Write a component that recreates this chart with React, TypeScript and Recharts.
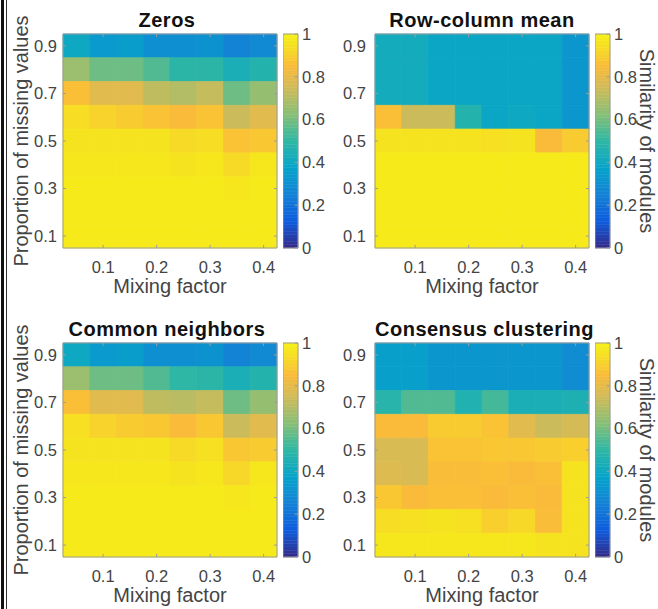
import React from 'react';
import {
  ScatterChart,
  Scatter,
  XAxis,
  YAxis,
  ReferenceArea,
  ReferenceLine,
} from 'recharts';

// grid of the heatmaps
const mixingFactors = [0.05, 0.1, 0.15, 0.2, 0.25, 0.3, 0.35, 0.4];
// rows listed top to bottom
const missingProps = [0.9, 0.8, 0.7, 0.6, 0.5, 0.4, 0.3, 0.2, 0.1];

const xTicks = [0.1, 0.2, 0.3, 0.4];
const yTicks = [0.1, 0.3, 0.5, 0.7, 0.9];
const cbTicks = [0, 0.2, 0.4, 0.6, 0.8, 1];

// similarity of modules, one row per missing proportion (0.9 -> 0.1)
const zerosSim = [
  [0.4, 0.34, 0.35, 0.3, 0.3, 0.31, 0.26, 0.28],
  [0.66, 0.59, 0.59, 0.55, 0.49, 0.49, 0.44, 0.47],
  [0.86, 0.79, 0.79, 0.72, 0.7, 0.73, 0.59, 0.65],
  [0.94, 0.91, 0.89, 0.87, 0.85, 0.87, 0.74, 0.79],
  [0.96, 0.96, 0.96, 0.96, 0.93, 0.94, 0.87, 0.88],
  [0.97, 0.97, 0.97, 0.97, 0.96, 0.97, 0.93, 0.97],
  [0.98, 0.98, 0.98, 0.98, 0.98, 0.98, 0.97, 0.98],
  [0.98, 0.98, 0.98, 0.98, 0.98, 0.98, 0.98, 0.98],
  [0.98, 0.98, 0.98, 0.98, 0.98, 0.98, 0.98, 0.98],
];

const rowColSim = [
  [0.42, 0.42, 0.39, 0.39, 0.39, 0.39, 0.39, 0.33],
  [0.42, 0.42, 0.39, 0.39, 0.39, 0.39, 0.39, 0.33],
  [0.42, 0.42, 0.39, 0.39, 0.39, 0.39, 0.39, 0.33],
  [0.86, 0.74, 0.74, 0.47, 0.39, 0.4, 0.39, 0.33],
  [0.96, 0.96, 0.96, 0.96, 0.95, 0.96, 0.85, 0.89],
  [0.98, 0.98, 0.98, 0.98, 0.98, 0.98, 0.98, 0.98],
  [0.98, 0.98, 0.98, 0.98, 0.98, 0.98, 0.98, 0.98],
  [0.98, 0.98, 0.98, 0.98, 0.98, 0.98, 0.98, 0.98],
  [0.98, 0.98, 0.98, 0.98, 0.98, 0.98, 0.98, 0.98],
];

const neighborsSim = [
  [0.4, 0.34, 0.35, 0.3, 0.3, 0.31, 0.26, 0.28],
  [0.66, 0.59, 0.59, 0.55, 0.5, 0.49, 0.44, 0.47],
  [0.86, 0.79, 0.79, 0.72, 0.71, 0.73, 0.59, 0.65],
  [0.95, 0.91, 0.89, 0.88, 0.85, 0.88, 0.74, 0.79],
  [0.96, 0.96, 0.96, 0.96, 0.93, 0.95, 0.88, 0.89],
  [0.97, 0.97, 0.97, 0.97, 0.96, 0.97, 0.92, 0.97],
  [0.98, 0.98, 0.98, 0.98, 0.98, 0.98, 0.97, 0.98],
  [0.98, 0.98, 0.98, 0.98, 0.98, 0.98, 0.98, 0.98],
  [0.98, 0.98, 0.98, 0.98, 0.98, 0.98, 0.98, 0.98],
];

const consensusSim = [
  [0.36, 0.36, 0.33, 0.33, 0.33, 0.33, 0.33, 0.29],
  [0.36, 0.36, 0.33, 0.33, 0.33, 0.33, 0.33, 0.29],
  [0.48, 0.55, 0.55, 0.46, 0.53, 0.44, 0.44, 0.45],
  [0.85, 0.85, 0.89, 0.89, 0.87, 0.79, 0.74, 0.76],
  [0.77, 0.77, 0.87, 0.87, 0.88, 0.88, 0.89, 0.9],
  [0.78, 0.77, 0.855, 0.855, 0.86, 0.85, 0.86, 0.96],
  [0.88, 0.85, 0.86, 0.86, 0.85, 0.86, 0.85, 0.96],
  [0.94, 0.95, 0.96, 0.95, 0.9, 0.92, 0.855, 0.96],
  [0.97, 0.97, 0.97, 0.97, 0.97, 0.97, 0.96, 0.96],
];

// parula-like colormap
const parulaStops: [number, number, number, number][] = [
  [0, 53, 42, 135],
  [0.125, 15, 92, 221],
  [0.25, 20, 129, 214],
  [0.375, 6, 164, 202],
  [0.5, 46, 183, 164],
  [0.625, 135, 191, 119],
  [0.75, 209, 187, 89],
  [0.85, 250, 187, 58],
  [0.92, 247, 215, 40],
  [1, 245, 240, 22],
];

function parula(v: number) {
  const t = Math.max(0, Math.min(1, v));
  for (let i = 1; i < parulaStops.length; i++) {
    const a = parulaStops[i - 1];
    const b = parulaStops[i];
    if (t <= b[0]) {
      const f = (t - a[0]) / (b[0] - a[0]);
      const c = [1, 2, 3].map((k) => Math.round(a[k] + (b[k] - a[k]) * f));
      return `rgb(${c[0]},${c[1]},${c[2]})`;
    }
  }
  return 'rgb(245,240,22)';
}

const FONT = '"Liberation Sans", Arial, Helvetica, sans-serif';
const TEXT = '#444444';
const BOX = '#9c9c9c';
const tickStyle = { fontSize: 16.5, fill: TEXT, fontFamily: FONT };
const labelStyle = { fontSize: 20, fill: TEXT, fontFamily: FONT };

const halfW = 0.025;
const halfH = 0.05;
const xDomain: [number, number] = [0.025, 0.425];
const yDomain: [number, number] = [0.05, 0.95];
const tickLenX = 0.0055; // in x units
const tickLenY = 0.013; // in y units

function HeatPanel({
  title,
  values,
  left,
  top,
  yLabel,
  yTickMargin,
}: {
  title: string;
  values: number[][];
  left: number;
  top: number;
  yLabel: boolean;
  yTickMargin: number;
}) {
  const cells = values.flatMap((row, r) =>
    row.map((v, c) => ({ x: mixingFactors[c], y: missingProps[r], v }))
  );
  return (
    <div style={{ position: 'absolute', left, top, width: 300, height: 300 }}>
      <div
        style={{
          position: 'absolute',
          left: 60,
          width: 214,
          top: 10,
          textAlign: 'center',
          fontFamily: FONT,
          fontWeight: 'bold',
          fontSize: 20,
          lineHeight: '20px',
          letterSpacing: 0.5,
          color: '#111',
          whiteSpace: 'nowrap',
        }}
      >
        {title}
      </div>
      <ScatterChart
        width={300}
        height={300}
        margin={{ top: 34, right: left === 0 ? 23 : 26, bottom: 0, left: 0 }}
        style={{ position: 'absolute', left: 0, top: 0 }}
      >
        <XAxis
          type="number"
          dataKey="x"
          domain={xDomain}
          ticks={xTicks}
          tickFormatter={(v: number) => v.toFixed(1)}
          tick={tickStyle}
          tickLine={false}
          axisLine={false}
          tickSize={0}
          tickMargin={13}
          height={52}
          allowDataOverflow
          label={{ value: 'Mixing factor', position: 'insideBottom', offset: 7, style: labelStyle }}
        />
        <YAxis
          type="number"
          dataKey="y"
          domain={yDomain}
          ticks={yTicks}
          tickFormatter={(v: number) => v.toFixed(1)}
          tick={tickStyle}
          tickLine={false}
          axisLine={false}
          tickSize={0}
          tickMargin={yTickMargin}
          width={left === 0 ? 63 : 60}
          allowDataOverflow
          label={
            yLabel
              ? {
                  value: 'Proportion of missing values',
                  angle: -90,
                  position: 'insideLeft',
                  offset: 21,
                  textAnchor: 'middle',
                  style: { ...labelStyle, textAnchor: 'middle' },
                }
              : undefined
          }
        />
        {cells.map((d, i) => (
          <ReferenceArea
            key={`c${i}`}
            x1={d.x - halfW}
            x2={d.x + halfW}
            y1={d.y - halfH}
            y2={d.y + halfH}
            fill={parula(d.v)}
            fillOpacity={1}
            stroke={parula(d.v)}
            strokeWidth={0.8}
            ifOverflow="visible"
          />
        ))}
        {xTicks.map((t) => (
          <ReferenceLine
            key={`xb${t}`}
            segment={[{ x: t, y: yDomain[0] }, { x: t, y: yDomain[0] + tickLenY }]}
            stroke={BOX}
            ifOverflow="visible"
          />
        ))}
        {xTicks.map((t) => (
          <ReferenceLine
            key={`xt${t}`}
            segment={[{ x: t, y: yDomain[1] }, { x: t, y: yDomain[1] - tickLenY }]}
            stroke={BOX}
            ifOverflow="visible"
          />
        ))}
        {yTicks.map((t) => (
          <ReferenceLine
            key={`yl${t}`}
            segment={[{ x: xDomain[0], y: t }, { x: xDomain[0] + tickLenX, y: t }]}
            stroke={BOX}
            ifOverflow="visible"
          />
        ))}
        {yTicks.map((t) => (
          <ReferenceLine
            key={`yr${t}`}
            segment={[{ x: xDomain[1], y: t }, { x: xDomain[1] - tickLenX, y: t }]}
            stroke={BOX}
            ifOverflow="visible"
          />
        ))}
        <ReferenceArea
          x1={xDomain[0]}
          x2={xDomain[1]}
          y1={yDomain[0]}
          y2={yDomain[1]}
          fill="none"
          stroke={BOX}
          strokeWidth={1}
          ifOverflow="visible"
        />
        <Scatter data={cells} isAnimationActive={false} shape={() => <g />} />
      </ScatterChart>
    </div>
  );
}

// colorbar levels (the colour scale itself)
const cbLevels = Array.from({ length: 64 }, (_, i) => i / 64);

function ColorBar({ left, top, withLabel }: { left: number; top: number; withLabel: boolean }) {
  const w = withLabel ? 63 : 60;
  return (
    <div style={{ position: 'absolute', left, top, width: w, height: 300 }}>
      <ScatterChart width={w} height={300} margin={{ top: 34, right: 0, bottom: 52, left: 0 }}>
        <XAxis type="number" dataKey="x" domain={[0, 1]} hide />
        <YAxis
          type="number"
          dataKey="y"
          orientation="right"
          domain={[0, 1]}
          ticks={cbTicks}
          tickFormatter={(v: number) => (v === 0 || v === 1 ? String(v) : v.toFixed(1))}
          tick={tickStyle}
          tickLine={false}
          axisLine={false}
          tickSize={0}
          tickMargin={4}
          width={w - 15}
          label={
            withLabel
              ? {
                  value: 'Similarity of modules',
                  angle: 90,
                  position: 'insideRight',
                  offset: 11,
                  textAnchor: 'middle',
                  style: { ...labelStyle, textAnchor: 'middle' },
                }
              : undefined
          }
        />
        {cbLevels.map((lv, i) => (
          <ReferenceArea
            key={`l${i}`}
            x1={0}
            x2={1}
            y1={lv}
            y2={lv + 1 / 64}
            fill={parula(lv + 0.5 / 64)}
            fillOpacity={1}
            stroke={parula(lv + 0.5 / 64)}
            strokeWidth={0.5}
            ifOverflow="visible"
          />
        ))}
        {cbTicks.map((t) => (
          <ReferenceLine
            key={`t${t}`}
            segment={[{ x: 1, y: t }, { x: 0.78, y: t }]}
            stroke={BOX}
            ifOverflow="visible"
          />
        ))}
        <ReferenceArea
          x1={0}
          x2={1}
          y1={0}
          y2={1}
          fill="none"
          stroke={BOX}
          ifOverflow="visible"
        />
        <Scatter data={[{ x: 0.5, y: 0.5 }]} isAnimationActive={false} shape={() => <g />} />
      </ScatterChart>
    </div>
  );
}

export default function App() {
  return (
    <div
      style={{
        position: 'absolute',
        left: 0,
        top: 0,
        width: 658,
        height: 609,
        background: '#fff',
        overflow: 'hidden',
      }}
    >
      <div style={{ position: 'absolute', left: 1, top: 0, width: 3, height: 609, background: '#111' }} />
      <div style={{ position: 'absolute', left: 6, top: 0, width: 1, height: 609, background: '#333' }} />
      <HeatPanel title="Zeros" values={zerosSim} left={0} top={0} yLabel yTickMargin={6} />
      <ColorBar left={283} top={0} withLabel={false} />
      <HeatPanel title="Row-column mean" values={rowColSim} left={315} top={0} yLabel={false} yTickMargin={9} />
      <ColorBar left={595} top={0} withLabel />
      <HeatPanel title="Common neighbors" values={neighborsSim} left={0} top={309} yLabel yTickMargin={6} />
      <ColorBar left={283} top={309} withLabel={false} />
      <HeatPanel
        title="Consensus clustering"
        values={consensusSim}
        left={315}
        top={309}
        yLabel={false}
        yTickMargin={9}
      />
      <ColorBar left={595} top={309} withLabel />
    </div>
  );
}
